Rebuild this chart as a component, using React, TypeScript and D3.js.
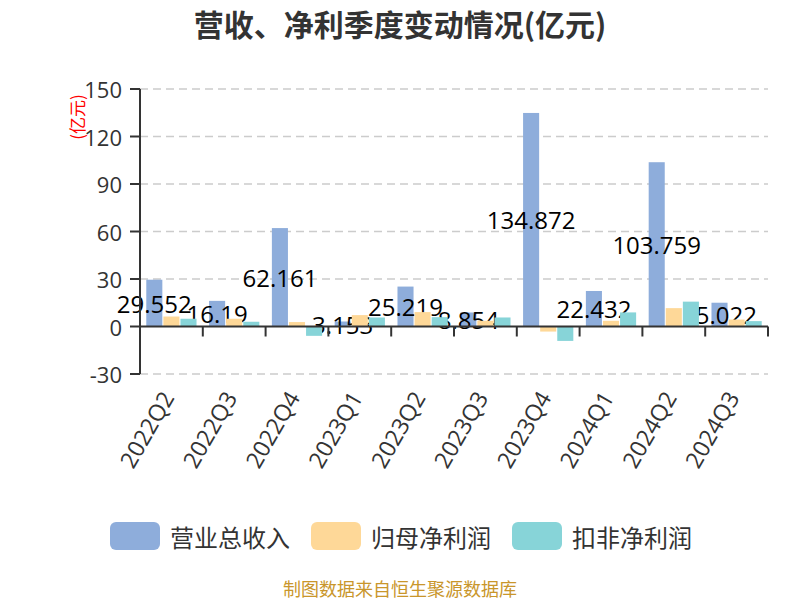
import React from 'react';
import * as d3 from 'd3';

const categories = ['2022Q2', '2022Q3', '2022Q4', '2023Q1', '2023Q2', '2023Q3', '2023Q4', '2024Q1', '2024Q2', '2024Q3'];
const revenue = [29.552, 16.19, 62.161, 3.153, 25.219, 8.854, 134.872, 22.432, 103.759, 15.022];
const parentProfit = [6.3, 4.9, 2.8, 7.2, 9.1, 3.6, -3.2, 3.6, 11.6, 4.4];
const deductedProfit = [4.9, 3.0, -5.9, 5.7, 5.9, 5.7, -9.1, 8.9, 15.7, 3.4];
const seriesNames = ['营业总收入', '归母净利润', '扣非净利润'];
const seriesColors = ['#8eaddb', '#fed898', '#87d4d8'];
const yTicks = [-30, 0, 30, 60, 90, 120, 150];

const FONT = "'Noto Sans CJK SC', sans-serif";
const NUM_FONT = "'Open Sans', 'Noto Sans CJK SC', sans-serif";

const App = () => {
  const width = 800;
  const height = 600;
  const margin = { top: 89, right: 32, bottom: 226, left: 140 };

  const x = d3.scaleBand<string>()
    .domain(categories)
    .range([margin.left, width - margin.right])
    .padding(0);

  const bw = x.bandwidth();
  const inner = d3.scaleBand<string>()
    .domain(seriesNames)
    .range([bw * 0.1, bw * 0.9])
    .paddingInner(0.06);

  const y = d3.scaleLinear()
    .domain([-30, 150])
    .range([height - margin.bottom, margin.top]);

  const allSeries = [revenue, parentProfit, deductedProfit];
  const y0 = y(0);

  const bars = (si: number) => allSeries[si].map((v, i) => (
    <rect
      key={`${si}-${i}`}
      x={x(categories[i])! + inner(seriesNames[si])!}
      y={Math.min(y(v), y0)}
      width={inner.bandwidth()}
      height={Math.abs(y(v) - y0)}
      fill={seriesColors[si]}
    />
  ));

  const xEdges = categories.map(c => x(c)!).concat([x.range()[1]]);

  return (
    <svg width={width} height={height} style={{ position: 'absolute', left: 0, top: 0, background: '#fff' }}>
      <rect width={width} height={height} fill="#fff" />
      {/* title */}
      <text x={400} y={23} textAnchor="middle" dominantBaseline="central"
        fontFamily={FONT} fontSize={30} fontWeight="bold" fill="#333">
        营收、净利季度变动情况(亿元)
      </text>

      {/* grid */}
      {yTicks.filter(t => t !== 0).map(t => (
        <line key={t} x1={margin.left} x2={width - margin.right} y1={y(t)} y2={y(t)}
          stroke="#ccc" strokeWidth={1.5} strokeDasharray="8,5" />
      ))}

      {/* revenue bars and its labels, the other series are drawn on top */}
      {bars(0)}
      {revenue.map((v, i) => (
        <text key={i}
          x={x(categories[i])! + inner(seriesNames[0])! + inner.bandwidth() / 2}
          y={(y(v) + y0) / 2}
          textAnchor="middle" dominantBaseline="central"
          fontFamily={NUM_FONT} fontSize={24} fill="#000">
          {v}
        </text>
      ))}
      {bars(1)}
      {bars(2)}

      {/* y axis */}
      <line x1={margin.left} x2={margin.left} y1={y(150)} y2={y(-30)} stroke="#333" strokeWidth={2} />
      {yTicks.map(t => (
        <g key={t}>
          <line x1={margin.left - 10} x2={margin.left} y1={y(t)} y2={y(t)} stroke="#333" strokeWidth={2} />
          <text x={margin.left - 18} y={y(t)} textAnchor="end" dominantBaseline="central"
            fontFamily={NUM_FONT} fontSize={22} fill="#333">{t}</text>
        </g>
      ))}
      <text transform={`translate(76,117) rotate(-90)`} textAnchor="middle" dominantBaseline="central"
        fontFamily={FONT} fontSize={17} fill="red">(亿元)</text>

      {/* x axis at zero */}
      <line x1={margin.left} x2={width - margin.right} y1={y0} y2={y0} stroke="#333" strokeWidth={2} />
      {xEdges.map((ex, i) => (
        <line key={i} x1={ex} x2={ex} y1={y0} y2={y0 + 10} stroke="#333" strokeWidth={2} />
      ))}
      {categories.map(c => (
        <text key={c}
          transform={`translate(${x(c)! + bw / 2 - 4},${y(-30) + 19}) rotate(-60)`}
          textAnchor="end" dominantBaseline="central"
          fontFamily={NUM_FONT} fontSize={23} fill="#333">{c}</text>
      ))}

      {/* legend */}
      {seriesNames.map((n, i) => (
        <g key={n} transform={`translate(${110 + i * 201},522)`}>
          <rect width={50} height={28} rx={6} fill={seriesColors[i]} />
          <text x={60} y={14} dominantBaseline="central" fontFamily={FONT} fontSize={24} fill="#333">{n}</text>
        </g>
      ))}

      {/* source */}
      <text x={400} y={588} textAnchor="middle" dominantBaseline="central"
        fontFamily={FONT} fontSize={18} fill="#c9962b">制图数据来自恒生聚源数据库</text>
    </svg>
  );
};

export default App;
